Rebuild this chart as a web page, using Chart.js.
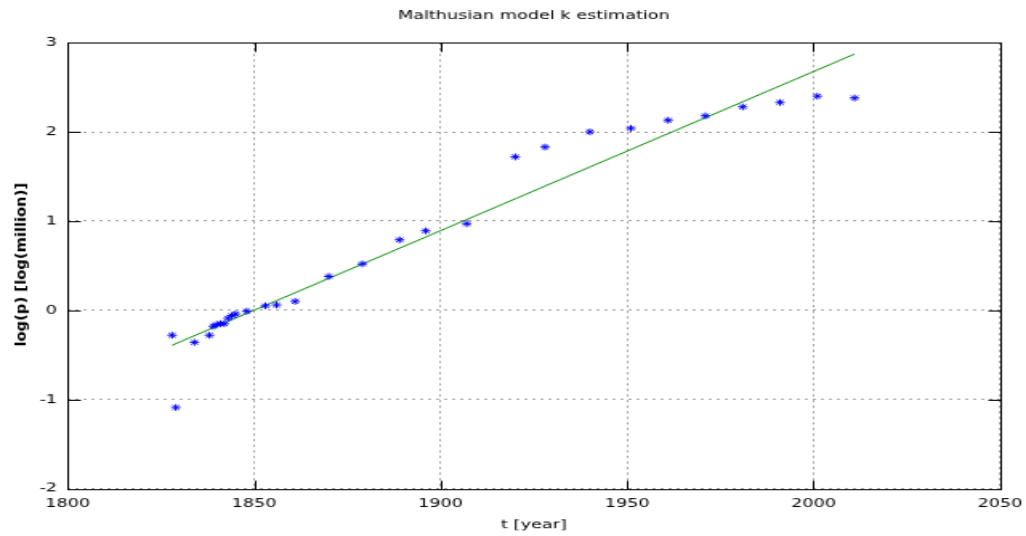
<!DOCTYPE html>
<html>
<head>
<meta charset="utf-8">
<script src="https://cdn.jsdelivr.net/npm/chart.js@4/dist/chart.umd.min.js"></script>
<style>
  html, body { margin: 0; padding: 0; background: #ffffff; overflow: hidden; }
</style>
</head>
<body>
<canvas id="c" width="640" height="480" style="display:block;width:1026px;height:536px;"></canvas>
<script>
// ---- data ----
const years = [1828, 1829, 1834, 1838, 1839, 1840, 1841, 1842, 1843, 1844, 1845, 1848,
               1853, 1856, 1861, 1870, 1879, 1889, 1896, 1907, 1920, 1928, 1940, 1951,
               1961, 1971, 1981, 1991, 2001, 2011];
const logP  = [-0.28, -1.09, -0.36, -0.28, -0.18, -0.16, -0.15, -0.15, -0.09, -0.06, -0.04, -0.01,
               0.05, 0.06, 0.10, 0.38, 0.52, 0.79, 0.89, 0.97, 1.72, 1.83, 2.00, 2.04,
               2.13, 2.18, 2.28, 2.33, 2.40, 2.38];
const fitYears = [1828, 2011];
const fitLogP  = [-0.392, 2.873];
const xTickValues = [1800, 1850, 1900, 1950, 2000, 2050];
const yTickValues = [-2, -1, 0, 1, 2, 3];
const titleText = 'Malthusian model k estimation';
const xTitle = 't [year]';
const yTitle = 'log(p) [log(million)]';

Chart.defaults.font.family = "'DejaVu Sans', sans-serif";
Chart.defaults.color = '#000000';

const pointData = years.map((y, i) => ({ x: y, y: logP[i] }));
const fitData = fitYears.map((y, i) => ({ x: y, y: fitLogP[i] }));

const framePlugin = {
  id: 'frame',
  beforeDraw(chart) {
    const ctx = chart.ctx;
    ctx.save();
    ctx.fillStyle = '#ffffff';
    ctx.fillRect(0, 0, chart.width, chart.height);
    ctx.restore();
  },
  afterDraw(chart) {
    const ctx = chart.ctx;
    const a = chart.chartArea;
    const xs = chart.scales.x, ys = chart.scales.y;
    const L = Math.round(a.left) + 0.5, R = Math.round(a.right) + 0.5;
    const T = Math.round(a.top) + 0.5, B = Math.round(a.bottom) + 0.5;
    const tl = 8;
    ctx.save();
    ctx.strokeStyle = '#000000';
    ctx.lineWidth = 1;
    ctx.beginPath();
    xTickValues.forEach(v => {
      const px = Math.round(xs.getPixelForValue(v)) + 0.5;
      ctx.moveTo(px, B); ctx.lineTo(px, B - tl);
      ctx.moveTo(px, T); ctx.lineTo(px, T + tl);
    });
    yTickValues.forEach(v => {
      const py = Math.round(ys.getPixelForValue(v)) + 0.5;
      ctx.moveTo(L, py); ctx.lineTo(L + tl, py);
      ctx.moveTo(R, py); ctx.lineTo(R - tl, py);
    });
    ctx.stroke();
    ctx.strokeRect(L, T, R - L, B - T);
    // y-axis title (rotated)
    ctx.translate(14.2, 237);
    ctx.rotate(-Math.PI / 2);
    ctx.scale(1, 0.6);
    ctx.font = "bold 13.2px 'DejaVu Sans', sans-serif";
    ctx.fillStyle = '#000000';
    ctx.textAlign = 'center';
    ctx.textBaseline = 'middle';
    ctx.fillText(yTitle, 0, 0);
    ctx.restore();
  }
};

new Chart(document.getElementById('c'), {
  type: 'scatter',
  data: {
    datasets: [
      {
        label: 'data',
        data: pointData,
        showLine: false,
        pointStyle: 'star',
        pointRadius: 3,
        pointHoverRadius: 3,
        borderColor: '#0000ff',
        backgroundColor: '#0000ff',
        pointBorderWidth: 1,
        order: 1
      },
      {
        label: 'fit',
        data: fitData,
        showLine: true,
        pointRadius: 0,
        borderColor: '#008c00',
        borderWidth: 1,
        fill: false,
        order: 2
      }
    ]
  },
  plugins: [framePlugin],
  options: {
    responsive: false,
    devicePixelRatio: 1,
    animation: false,
    events: [],
    layout: { padding: { left: 0, right: 16.2, top: 0, bottom: 0 } },
    plugins: {
      legend: { display: false },
      tooltip: { enabled: false },
      title: {
        display: true,
        fullSize: false,
        text: titleText,
        font: { size: 11, weight: 'normal' },
        color: '#000000',
        padding: { top: 7.7, bottom: 17.3 }
      }
    },
    scales: {
      x: {
        type: 'linear',
        min: 1800, max: 2050,
        afterBuildTicks(scale) { scale.ticks = xTickValues.map(v => ({ value: v })); },
        afterFit(scale) { scale.height = 42.4; scale.paddingLeft = 0; scale.paddingRight = 0; },
        grid: { color: '#a0a0a0', lineWidth: 1, drawTicks: false },
        border: { display: false, dash: [2, 3] },
        ticks: { font: { size: 11 }, color: '#000000', padding: 7.1, maxRotation: 0, autoSkip: false,
                 callback: v => String(v) },
        title: { display: true, text: xTitle, font: { size: 11 }, color: '#000000', padding: { top: 0, bottom: 3.4 } }
      },
      y: {
        type: 'linear',
        min: -2, max: 3,
        afterBuildTicks(scale) { scale.ticks = yTickValues.map(v => ({ value: v })); },
        afterFit(scale) { scale.width = 42.2; scale.paddingTop = 0; scale.paddingBottom = 0; },
        grid: { color: '#a0a0a0', lineWidth: 1, drawTicks: false },
        border: { display: false, dash: [2, 3] },
        ticks: { font: { size: 11 }, color: '#000000', padding: 6.6, autoSkip: false,
                 callback: v => String(v) }
      }
    }
  }
});
</script>
</body>
</html>
